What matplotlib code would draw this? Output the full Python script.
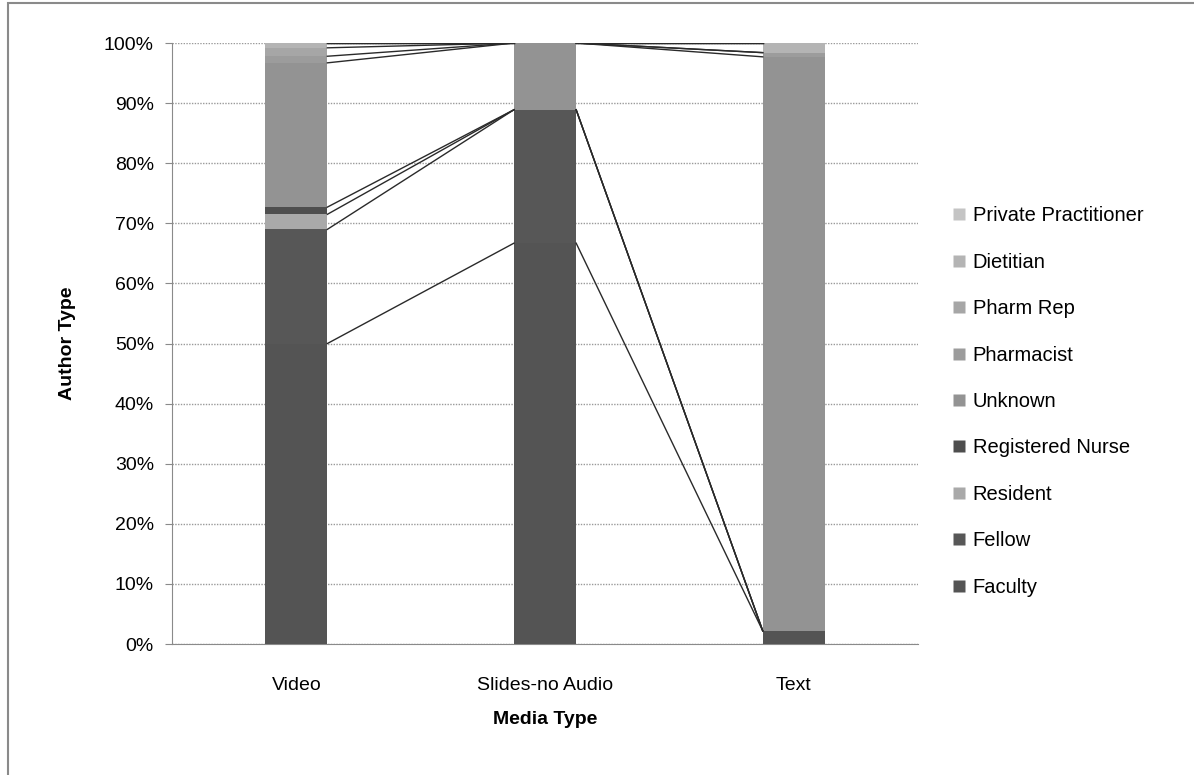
import numpy as np
import matplotlib
matplotlib.use("Agg")
import matplotlib.pyplot as plt
import matplotlib.patches as mpatches
from matplotlib.lines import Line2D
from matplotlib.ticker import PercentFormatter

plt.rcParams.update({
    "font.family": ["Liberation Sans", "DejaVu Sans"],
    "font.size": 14,
})

# ------------------------------------------------------------------ data
media = ["Video", "Slides-no Audio", "Text"]
authors = ["Faculty", "Fellow", "Resident", "Registered Nurse", "Unknown",
           "Pharmacist", "Pharm Rep", "Dietitian", "Private Practitioner"]
# percent share of each author type per media type (bottom -> top)
video  = [50.0, 19.0, 2.5, 1.2, 24.0, 1.1, 1.4, 0.8, 0.0]
slides = [66.7, 22.2, 0.0, 0.0, 11.1, 0.0, 0.0, 0.0, 0.0]
text   = [2.2, 0.0, 0.0, 0.0, 95.5, 0.7, 0.0, 1.6, 0.0]

# grayscale print of the default palette
colors = ["#545454", "#575757", "#a9a9a9", "#4e4e4e", "#939393",
          "#9c9c9c", "#a6a6a6", "#b4b4b4", "#c4c4c4"]

# ------------------------------------------------------------------ plot
shares = np.array([video, slides, text]).T      # rows = authors
x = np.arange(len(media))
width = 0.25

fig = plt.figure(figsize=(11.94, 7.75), dpi=100)
ax = fig.add_axes([0.144, 0.169, 0.625, 0.7755])

bottom = np.zeros(len(media))
tops = []
for vals, c, name in zip(shares, colors, authors):
    ax.bar(x, vals, width, bottom=bottom, color=c, edgecolor="none",
           label=name, zorder=3)
    bottom = bottom + vals
    tops.append(bottom.copy())

# series lines between neighbouring bars
for top in tops:
    for i in range(len(media) - 1):
        ax.plot([x[i] + width / 2, x[i + 1] - width / 2],
                [top[i], top[i + 1]], color="#2a2a2a", lw=1.0, zorder=4)

ax.set_xlim(-0.5, len(media) - 0.5)
ax.set_ylim(0, 100)
ax.set_yticks(np.arange(0, 101, 10))
ax.yaxis.set_major_formatter(PercentFormatter(decimals=0))
ax.set_xticks(x)
ax.set_xticklabels(media)
ax.grid(axis="y", color="#9a9a9a", ls=(0, (1, 1)), lw=1.0, zorder=0)

for side in ["top", "right"]:
    ax.spines[side].set_visible(False)
ax.spines["left"].set_color("#8a8a8a")
ax.spines["bottom"].set_color("#8a8a8a")
ax.tick_params(axis="y", length=5, color="#8a8a8a", pad=8)
ax.tick_params(axis="x", length=0, pad=24)

ax.set_ylabel("Author Type", fontweight="bold", fontsize=14, labelpad=20)
ax.set_xlabel("Media Type", fontweight="bold", fontsize=14, labelpad=12)

# legend, top entry first
handles = [Line2D([], [], marker="s", ls="none", markersize=8,
                  markerfacecolor=c, markeredgecolor="none")
           for c in colors]
fig.legend(handles[::-1], authors[::-1], loc="upper left",
           bbox_to_anchor=(0.78, 0.757), frameon=False,
           labelspacing=1.36, handletextpad=0.25, handlelength=0.9,
           fontsize=14.5)

# outer chart border
fig.patches.append(mpatches.Rectangle(
    (0.007, -0.01), 1.2, 1.006, transform=fig.transFigure,
    fill=False, ec="#8a8a8a", lw=1.5))

fig.savefig("out.png", dpi=100)
